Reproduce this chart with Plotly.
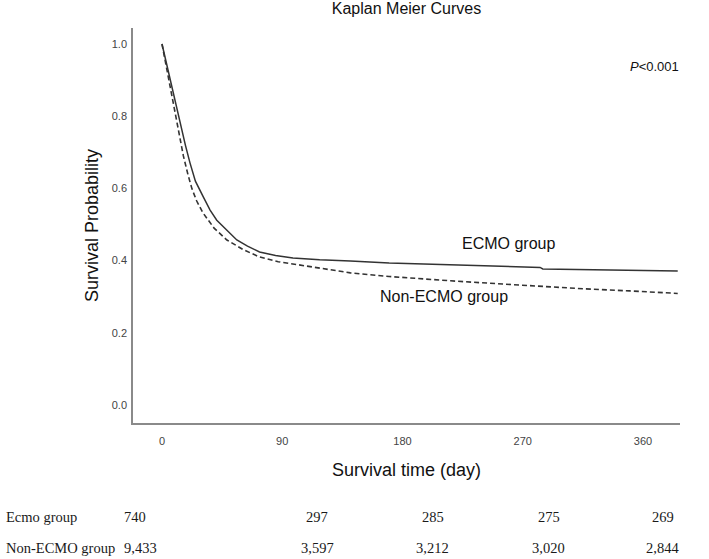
import plotly.graph_objects as go

# ---- data ----
ecmo_days = [0, 3.7, 7, 10.5, 14, 17.5, 21, 25, 31, 36, 41, 48, 56, 64, 73, 85, 98,
             118, 141, 170, 216, 246, 260, 283, 285, 305, 343, 360, 386]
ecmo_surv = [1.0, 0.94, 0.885, 0.83, 0.775, 0.72, 0.67, 0.62, 0.576, 0.54, 0.512, 0.485,
             0.457, 0.44, 0.424, 0.414, 0.407, 0.402, 0.399, 0.393, 0.388, 0.386, 0.383,
             0.381, 0.377, 0.376, 0.374, 0.372, 0.371]

non_days = [0, 3.7, 7, 10, 13, 16, 19.5, 22.5, 26, 30.7, 39, 48.6, 61, 73, 87, 103, 122,
            141, 170, 190, 216, 255, 285, 315, 350, 386]
non_surv = [1.0, 0.93, 0.865, 0.805, 0.745, 0.69, 0.637, 0.598, 0.565, 0.532, 0.49, 0.457,
            0.43, 0.41, 0.397, 0.388, 0.377, 0.366, 0.356, 0.35, 0.344, 0.335, 0.328, 0.322,
            0.316, 0.309]

x_ticks = [0, 90, 180, 270, 360]
y_ticks = [0.0, 0.2, 0.4, 0.6, 0.8, 1.0]

risk_groups = ["Ecmo group", "Non-ECMO group"]
risk_ecmo = [740, 297, 285, 275, 269]
risk_non = [9433, 3597, 3212, 3020, 2844]

# ---- layout helpers (positions of the number-at-risk table, in paper units) ----
table_label_x = -0.236
table_col_x = [-0.020, 0.3364, 0.5484, 0.7605, 0.9689]
table_col_anchor = ["left", "center", "center", "center", "center"]
table_row_y = [-0.263, -0.342]

line_col = "#333333"
fig = go.Figure()
fig.add_trace(go.Scatter(x=ecmo_days, y=ecmo_surv, mode="lines", name="ECMO group",
                         line=dict(color=line_col, width=1.5)))
fig.add_trace(go.Scatter(x=non_days, y=non_surv, mode="lines", name="Non-ECMO group",
                         line=dict(color=line_col, width=1.6, dash="5px,3px")))

sans = "Liberation Sans, Arial, sans-serif"
serif = "Liberation Serif, Times New Roman, serif"

annotations = [
    dict(x=259, y=0.447, xref="x", yref="y", text="ECMO group", showarrow=False,
         font=dict(family=sans, size=16, color="#111111")),
    dict(x=211, y=0.30, xref="x", yref="y", text="Non-ECMO group", showarrow=False,
         font=dict(family=sans, size=16, color="#111111")),
    dict(x=348.8, y=0.939, xref="x", yref="y", text="<i>P</i>&lt;0.001", showarrow=False,
         xanchor="left", font=dict(family=sans, size=13, color="#111111")),
]

for r, (grp, vals) in enumerate(zip(risk_groups, [risk_ecmo, risk_non])):
    annotations.append(dict(x=table_label_x, y=table_row_y[r], xref="paper", yref="paper",
                            text=grp, showarrow=False, xanchor="left",
                            font=dict(family=serif, size=14.5, color="#1a1a1a")))
    for i, v in enumerate(vals):
        annotations.append(dict(x=table_col_x[i], y=table_row_y[r], xref="paper", yref="paper",
                                text=f"{v:,}", showarrow=False, xanchor=table_col_anchor[i],
                                font=dict(family=serif, size=14.5, color="#1a1a1a")))

fig.update_layout(
    width=709, height=559,
    margin=dict(l=133, r=29, t=28, b=136),
    paper_bgcolor="white", plot_bgcolor="white",
    showlegend=False,
    title=dict(text="Kaplan Meier Curves", x=0.5, xref="paper", y=0.9946, yref="container",
               yanchor="top", xanchor="center",
               font=dict(family=sans, size=16, color="#111111")),
    annotations=annotations,
)
fig.update_xaxes(range=[-21.7, 387.7], tickvals=x_ticks, ticktext=[str(v) for v in x_ticks],
                 showgrid=False, zeroline=False, showline=True, linecolor="#8a8a8a", linewidth=1.5,
                 ticks="", ticklabelstandoff=7,
                 tickfont=dict(family=sans, size=11, color="#444444"),
                 title=dict(text="Survival time (day)", standoff=17,
                            font=dict(family=sans, size=18, color="#111111")))
fig.update_yaxes(range=[-0.0499, 1.0443], tickvals=y_ticks, ticktext=[f"{v:.1f}" for v in y_ticks],
                 showgrid=False, zeroline=False, showline=True, linecolor="#8a8a8a", linewidth=1.5,
                 ticks="", ticklabelstandoff=2,
                 tickfont=dict(family=sans, size=11, color="#444444"),
                 title=dict(text="Survival Probability", standoff=8,
                            font=dict(family=sans, size=18, color="#111111")))

fig.write_html("out.html", config={"displayModeBar": False},
               post_script="document.body.style.margin='0px';document.body.style.overflow='hidden';")
